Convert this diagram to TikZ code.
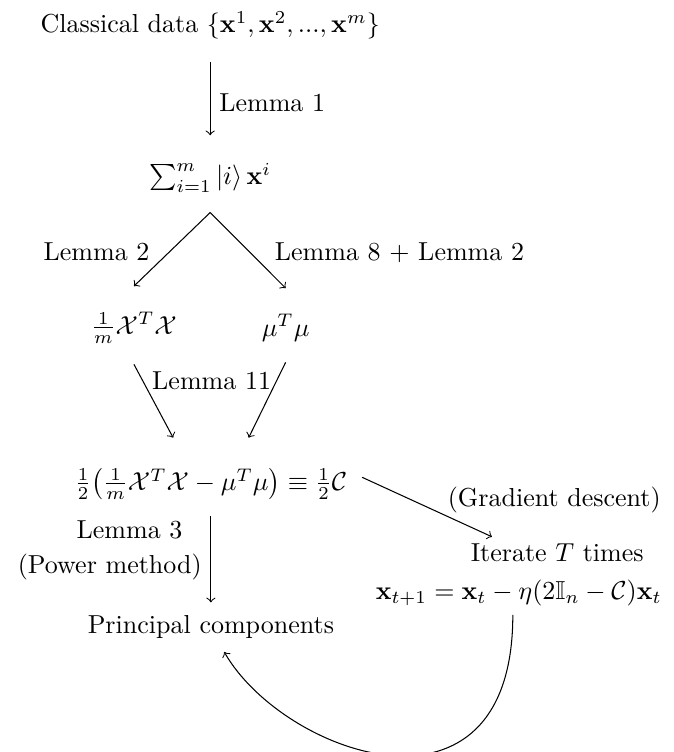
\documentclass[tikz,border=0pt]{standalone}
\usepackage{amsmath,amssymb}
\usetikzlibrary{arrows, calc}

\begin{document}
\begin{tikzpicture}

\tikzstyle{arrow} = [->]
\tikzstyle{lemma} = [inner sep=3.33pt]

\useasboundingbox (0,0) rectangle (9.095,-10.162);

% Encoding
\node (data) at (2.84,-0.34) {Classical data $\{\mathbf{x}^1, \mathbf{x}^2, ..., \mathbf{x}^m\}$};
\node (state) at (2.84,-2.40) {$\sum_{i=1}^m |i\rangle\,\mathbf{x}^i$};
\draw[arrow, shorten <=0.19cm, shorten >=0.25cm] (data) -- node[lemma, right, pos=0.52]{Lemma 1} (state);

% Covariance and mean
\node (cov) at (1.81,-4.43) {$\frac{1}{m}\mathcal{X}^T\mathcal{X}$};
\node (mean) at (3.86,-4.43) {$\mu^T\mu$};
\coordinate (fork) at ([yshift=-0.15cm]state.south);
\draw[arrow] (fork) -- node[lemma, left, pos=0.53, xshift=-0.15cm]{Lemma 2} ([yshift=0.23cm]cov.north);
\draw[arrow] (fork) -- node[lemma, right, pos=0.53, xshift=0.21cm]{Lemma 8 + Lemma 2} ([yshift=0.23cm]mean.north);

% Centred covariance
\node (half) at (2.85,-6.54) {$\frac{1}{2}\big(\frac{1}{m}\mathcal{X}^T\mathcal{X} - \mu^T\mu\big) \equiv \frac{1}{2}\mathcal{C}$};
\draw[arrow] ([yshift=-0.16cm]cov.south) -- ([xshift=-0.51cm, yshift=0.29cm]half.north);
\draw[arrow] ([yshift=-0.16cm]mean.south) -- ([xshift=0.51cm, yshift=0.29cm]half.north);
\node (merge) at (2.86,-5.14) {Lemma 11};

% Power method
\node (pc) at (2.85,-8.47) {Principal components};
\draw[arrow, shorten <=0.10cm] (half) -- node[lemma, left, pos=0.23, xshift=-0.26cm]{Lemma 3} node[lemma, left, pos=0.62]{(Power method)} ([yshift=0.05cm]pc.north);

% Gradient descent
\node (iter) at (7.53,-7.47) {Iterate $T$ times};
\node (update) at (7.01,-8.01) {$\mathbf{x}_{t+1} = \mathbf{x}_t - \eta(2\mathbb{I}_n - \mathcal{C})\mathbf{x}_t$};
\draw[arrow] ([xshift=0.08cm, yshift=0.09cm]half.east) -- ([xshift=0.41cm, yshift=-0.03cm]iter.north west);
\node (gd) at (7.49,-6.76) {(Gradient descent)};
\draw[arrow] ([xshift=-0.08cm]update.south) .. controls +(0,-3.0) and +(0.8,-1.39) .. ([xshift=0.18cm, yshift=-0.06cm]pc.south);

\end{tikzpicture}
\end{document}
